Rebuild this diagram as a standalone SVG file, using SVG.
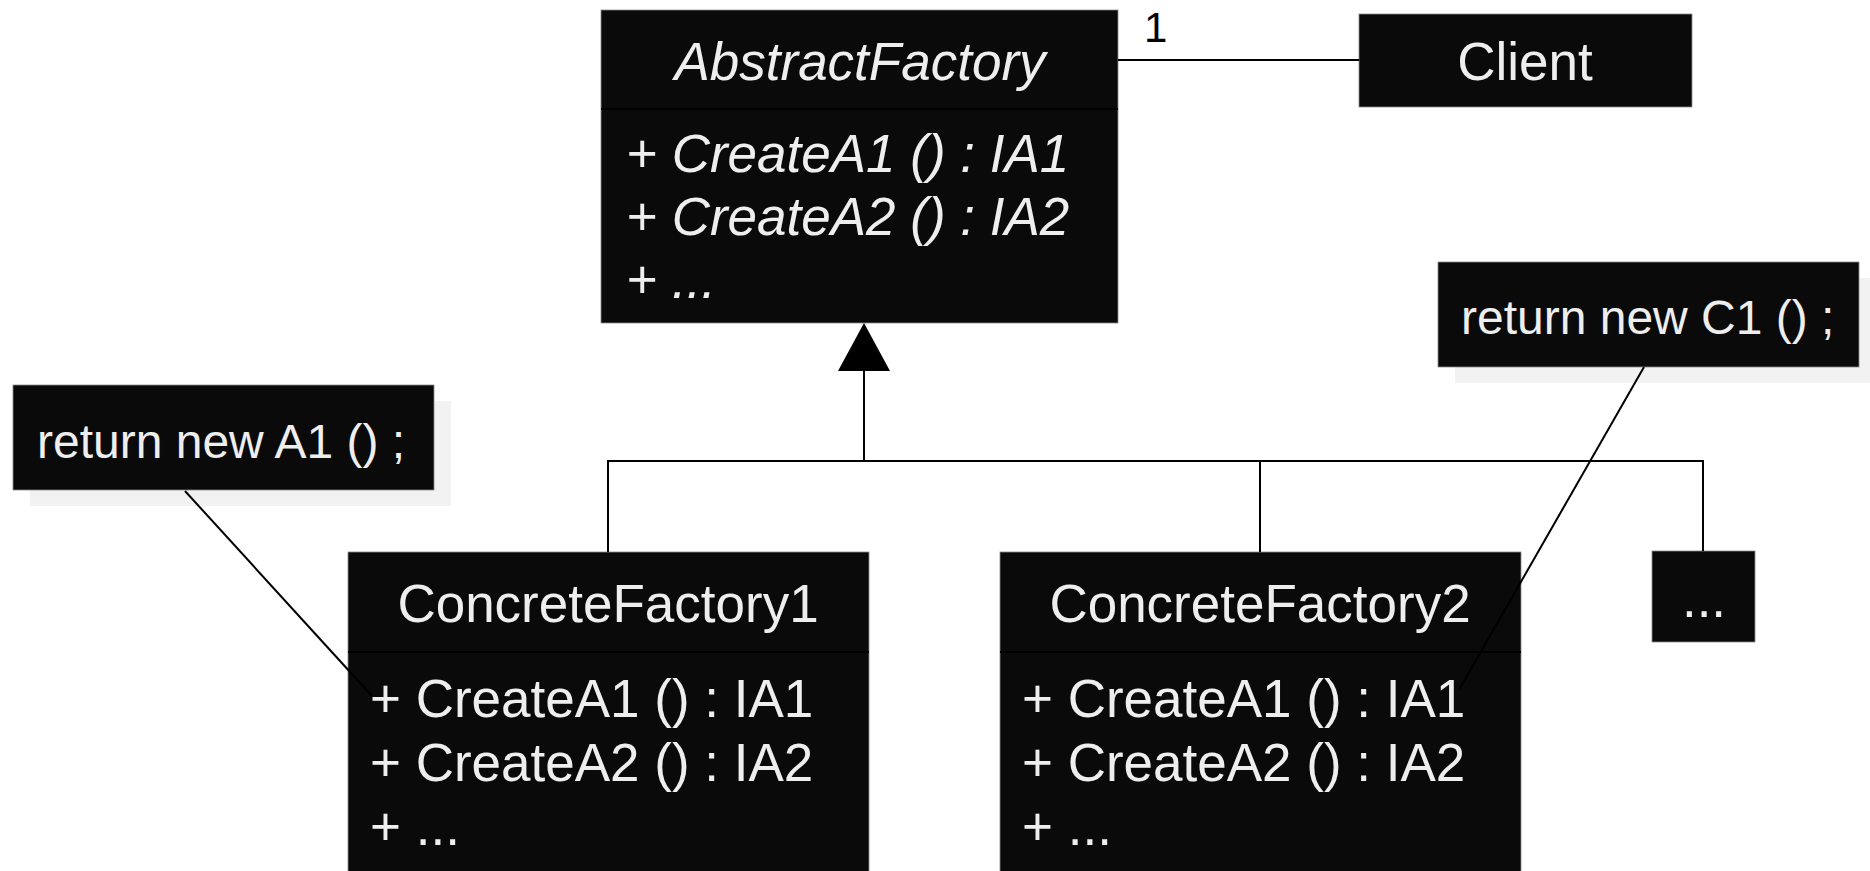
<svg xmlns="http://www.w3.org/2000/svg" width="1870" height="871" viewBox="0 0 1870 871">
<style>
.box{fill:#0a0a0a;stroke:#8a8a8a;stroke-width:0.8}
.div{stroke:#000;stroke-width:2}
.shadow{fill:#f2f2f2}
.t{font-family:"Liberation Sans",Arial,sans-serif;fill:#eeeeee;font-size:53px}
.n{font-family:"Liberation Sans",Arial,sans-serif;fill:#eeeeee;font-size:48px}
.i{font-style:italic}
.c{text-anchor:middle}
.ln{fill:none;stroke:#000;stroke-width:2}
.lbl{font-family:"Liberation Sans",Arial,sans-serif;fill:#000;font-size:42px}
</style>
<rect width="1870" height="871" fill="#fff"/>
<g id="abstractfactory">
<rect class="box" x="601" y="10" width="517" height="313"/>
<line class="div" x1="601" y1="109" x2="1118" y2="109"/>
<text class="t i c" x="860" y="80">AbstractFactory</text>
<text class="t i" x="626" y="172">+ CreateA1 () : IA1</text>
<text class="t i" x="626" y="235">+ CreateA2 () : IA2</text>
<text class="t i" x="626" y="298">+ ...</text>
</g>
<g id="client">
<rect class="box" x="1359" y="14" width="333" height="93"/>
<text class="t c" x="1525" y="80">Client</text>
</g>
<g id="noteC1">
<rect class="shadow" x="1455" y="278" width="421" height="105"/>
<rect class="box" x="1438" y="262" width="421" height="105"/>
<text class="n" x="1461" y="334">return new C1 () ;</text>
</g>
<g id="noteA1">
<rect class="shadow" x="30" y="401" width="421" height="105"/>
<rect class="box" x="13" y="385" width="421" height="105"/>
<text class="n" x="37" y="458">return new A1 () ;</text>
</g>
<g id="concretefactory1">
<rect class="box" x="348" y="552" width="521" height="330"/>
<line class="div" x1="348" y1="652" x2="869" y2="652"/>
<text class="t c" x="608" y="622">ConcreteFactory1</text>
<text class="t" x="370" y="717">+ CreateA1 () : IA1</text>
<text class="t" x="370" y="781">+ CreateA2 () : IA2</text>
<text class="t" x="370" y="845">+ ...</text>
</g>
<g id="concretefactory2">
<rect class="box" x="1000" y="552" width="521" height="330"/>
<line class="div" x1="1000" y1="652" x2="1521" y2="652"/>
<text class="t c" x="1260" y="622">ConcreteFactory2</text>
<text class="t" x="1022" y="717">+ CreateA1 () : IA1</text>
<text class="t" x="1022" y="781">+ CreateA2 () : IA2</text>
<text class="t" x="1022" y="845">+ ...</text>
</g>
<g id="more">
<rect class="box" x="1652" y="551" width="103" height="91"/>
<text class="t c" x="1704" y="617">...</text>
</g>
<g id="connectors">
<line class="ln" x1="1118" y1="60" x2="1359" y2="60"/>
<text class="lbl" x="1144" y="42">1</text>
<polyline class="ln" points="864,371 864,461 608,461 608,552"/>
<polyline class="ln" points="864,461 1260,461 1260,552"/>
<polyline class="ln" points="864,461 1703,461 1703,551"/>
<polygon points="864,323 838,371 890,371" fill="#000"/>
<line class="ln" x1="185" y1="491" x2="372" y2="696"/>
<line class="ln" x1="1644" y1="367" x2="1459" y2="690"/>
</g>
</svg>
